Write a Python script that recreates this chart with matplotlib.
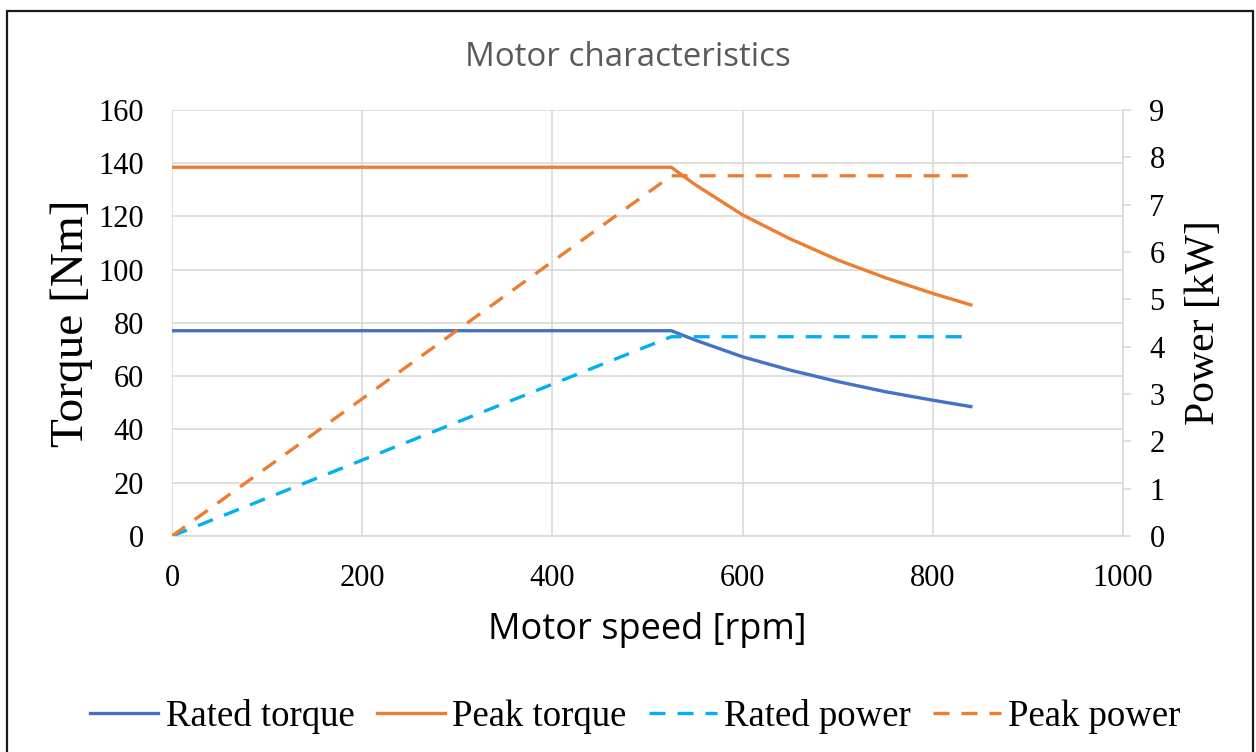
import matplotlib.pyplot as plt
from matplotlib.patches import Rectangle

# motor characteristic curves
speed_rpm = [0, 525, 550, 600, 650, 700, 750, 800, 840]
rated_torque = [77.1, 77.1, 73.6, 67.3, 62.3, 58.0, 54.2, 51.0, 48.6]
peak_torque = [138.5, 138.5, 132.0, 120.6, 111.6, 103.7, 97.0, 91.1, 86.8]

power_speed_rpm = [0, 525, 840]
rated_power = [0, 4.21, 4.21]
peak_power = [0, 7.61, 7.61]

x_ticks = [0, 200, 400, 600, 800, 1000]
torque_ticks = [0, 20, 40, 60, 80, 100, 120, 140, 160]
power_ticks = [0, 1, 2, 3, 4, 5, 6, 7, 8, 9]

blue = '#4472C4'
orange = '#ED7D31'
light_blue = '#00B0F0'
grid_col = '#D9D9D9'
serif = 'Liberation Serif'
sans = 'Open Sans'

fig = plt.figure(figsize=(12.56, 7.52), dpi=100)
ax = fig.add_axes([172 / 1256, 1 - 536 / 752, (1123 - 172) / 1256, (536 - 110) / 752])
ax2 = ax.twinx()

lw = 2.4
dash = (4.8, 3.6)
l1, = ax.plot(speed_rpm, rated_torque, color=blue, lw=lw, label='Rated torque')
l2, = ax.plot(speed_rpm, peak_torque, color=orange, lw=lw, label='Peak torque')
l3, = ax2.plot(power_speed_rpm, rated_power, color=light_blue, lw=lw, dashes=dash, label='Rated power')
l4, = ax2.plot(power_speed_rpm, peak_power, color=orange, lw=lw, dashes=dash, label='Peak power')

ax.set_xlim(0, 1000)
ax.set_ylim(0, 160)
ax2.set_ylim(0, 9)
ax.set_xticks(x_ticks)
ax.set_yticks(torque_ticks)
ax2.set_yticks(power_ticks)
ax.grid(True, color=grid_col, lw=1.2)
ax.set_axisbelow(True)

for a in (ax, ax2):
    for s in a.spines.values():
        s.set_visible(False)
ax.spines['bottom'].set_visible(True)
ax.spines['bottom'].set_color(grid_col)
ax.spines['bottom'].set_linewidth(1.2)
ax2.spines['right'].set_visible(True)
ax2.spines['right'].set_color(grid_col)
ax2.spines['right'].set_linewidth(1.2)

ax.tick_params(axis='x', length=0, labelsize=22, pad=20)
ax.tick_params(axis='y', length=0, labelsize=22, pad=20)
ax2.tick_params(axis='y', length=6, width=1.2, color=grid_col, labelsize=22, pad=13)
for lab in ax.get_xticklabels() + ax.get_yticklabels() + ax2.get_yticklabels():
    lab.set_fontfamily(serif)

ax.set_ylabel('Torque [Nm]', fontsize=34, family=serif, labelpad=4)
ax2.set_ylabel('Power [kW]', fontsize=30, family=serif, labelpad=14)
ax.set_xlabel('Motor speed [rpm]', fontsize=26, family=sans, labelpad=14)

fig.text(0.5, 1 - 57 / 752, 'Motor characteristics', ha='center', va='center',
         fontsize=23.8, family=sans, color='#595959')

fig.legend(handles=[l1, l2, l3, l4], loc='center', bbox_to_anchor=(0.506, 1 - 716 / 752),
           ncol=4, frameon=False, prop={'family': serif, 'size': 26.5},
           handlelength=1.85, handletextpad=0.2, columnspacing=0.6)

# outer chart frame
fig.patches.append(Rectangle((7 / 1256, -0.02), (1253 - 7) / 1256, 1.02 - 11 / 752,
                             transform=fig.transFigure, fill=False, edgecolor='#1a1a1a', lw=1.6))

fig.savefig('out.png', dpi=100)
